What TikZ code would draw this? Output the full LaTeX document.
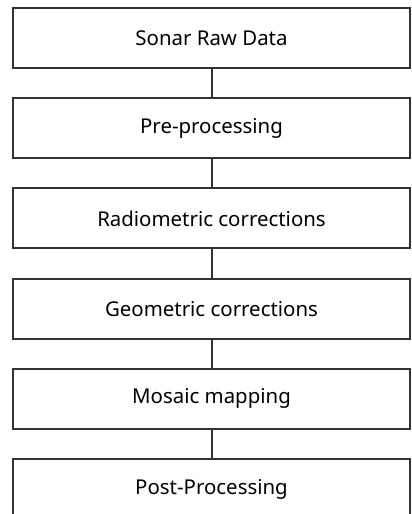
\documentclass[tikz,border=0pt]{standalone}
\usepackage{fontspec}
\setmainfont{Noto Sans}
\usetikzlibrary{positioning}

\begin{document}
\begin{tikzpicture}[x=1bp, y=1bp, node distance=28.2bp,
        stage/.style={draw=black!80, line width=2bp, minimum width=397bp,
            minimum height=60bp, inner sep=0pt, font=\fontsize{20.5}{24}\selectfont},
        link/.style={draw=black!80, line width=2bp}]
    \useasboundingbox (0,0) rectangle (411,-514);
    \clip (0,0) rectangle (411,-514);
    % processing chain, top to bottom
    \node[stage] (raw) at (211.5,-38) {Sonar Raw Data};
    \node[stage, below=of raw] (pre) {Pre-processing};
    \node[stage, below=of pre] (radio) {Radiometric corrections};
    \node[stage, below=of radio] (geo) {Geometric corrections};
    \node[stage, below=of geo] (mosaic) {Mosaic mapping};
    \node[stage, below=of mosaic] (post) {Post-Processing};
    \draw[link] (raw) -- (pre);
    \draw[link] (pre) -- (radio);
    \draw[link] (radio) -- (geo);
    \draw[link] (geo) -- (mosaic);
    \draw[link] (mosaic) -- (post);
\end{tikzpicture}
\end{document}
